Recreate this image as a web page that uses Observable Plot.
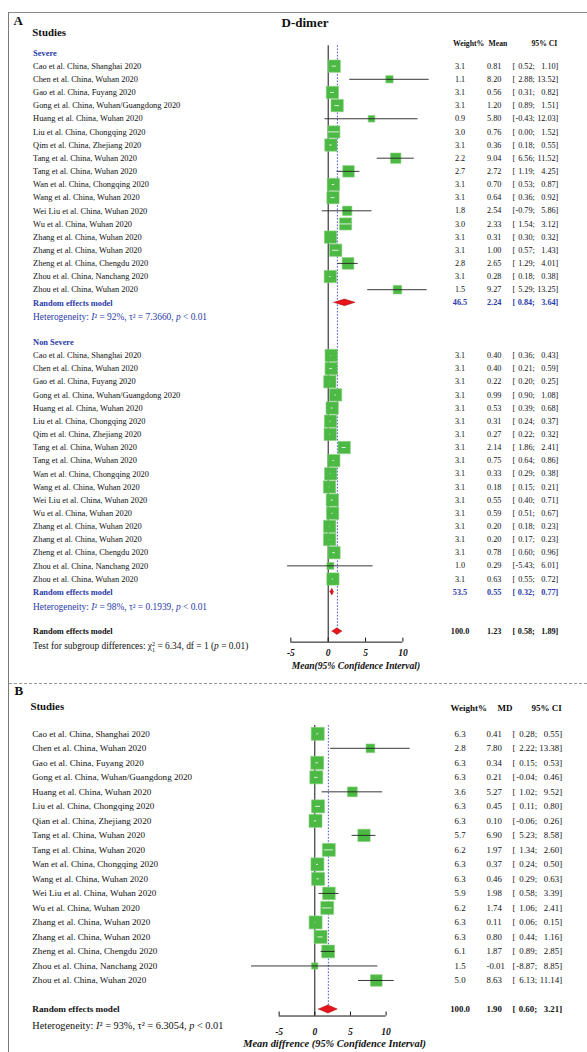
<!DOCTYPE html>
<html><head><meta charset="utf-8">
<script src="https://cdn.jsdelivr.net/npm/d3@7"></script>
<script src="https://cdn.jsdelivr.net/npm/@observablehq/plot@0.6"></script>
<style>
body{margin:0;background:#fff;}
#wrap{position:relative;width:587px;height:1052px;overflow:hidden;background:#fff;}
#wrap svg{display:block;}
.bt{position:absolute;left:9px;top:12px;width:578px;height:0;border-top:1.3px solid #8a8a8a;}
.bl{position:absolute;left:8px;top:12px;width:0;height:1040px;border-left:1.5px solid #7a7a7a;}
.bd{position:absolute;left:9px;top:683px;width:578px;height:0;border-top:1px dashed #9a9a9a;}
</style></head><body>
<div id="wrap"><div id="pa"></div><div id="pb"></div><div class="bt"></div><div class="bl"></div><div class="bd"></div></div>
<script>
// ---------------- data ----------------
const studiesA = ["Cao et al. China, Shanghai 2020","Chen et al. China, Wuhan 2020","Gao et al. China, Fuyang 2020","Gong et al. China, Wuhan/Guangdong 2020","Huang et al. China, Wuhan 2020","Liu et al. China, Chongqing 2020","Qim et al. China, Zhejiang 2020","Tang et al. China, Wuhan 2020","Tang et al. China, Wuhan 2020","Wan et al. China, Chongqing 2020","Wang et al. China, Wuhan 2020","Wei Liu et al. China, Wuhan 2020","Wu et al. China, Wuhan 2020","Zhang et al. China, Wuhan 2020","Zhang et al. China, Wuhan 2020","Zheng et al. China, Chengdu 2020","Zhou et al. China, Nanchang 2020","Zhou et al. China, Wuhan 2020"];
const studiesB = ["Cao et al. China, Shanghai 2020","Chen et al. China, Wuhan 2020","Gao et al. China, Fuyang 2020","Gong et al. China, Wuhan/Guangdong 2020","Huang et al. China, Wuhan 2020","Liu et al. China, Chongqing 2020","Qian et al. China, Zhejiang 2020","Tang et al. China, Wuhan 2020","Tang et al. China, Wuhan 2020","Wan et al. China, Chongqing 2020","Wang et al. China, Wuhan 2020","Wei Liu et al. China, Wuhan 2020","Wu et al. China, Wuhan 2020","Zhang et al. China, Wuhan 2020","Zhang et al. China, Wuhan 2020","Zheng et al. China, Chengdu 2020","Zhou et al. China, Nanchang 2020","Zhou et al. China, Wuhan 2020"];

const sevWeight = [3.1,1.1,3.1,3.1,0.9,3.0,3.1,2.2,2.7,3.1,3.1,1.8,3.0,3.1,3.1,2.8,3.1,1.5];
const sevMean   = [0.81,8.20,0.56,1.20,5.80,0.76,0.36,9.04,2.72,0.70,0.64,2.54,2.33,0.31,1.00,2.65,0.28,9.27];
const sevLower  = [0.52,2.88,0.31,0.89,-0.43,0.00,0.18,6.56,1.19,0.53,0.36,-0.79,1.54,0.30,0.57,1.29,0.18,5.29];
const sevUpper  = [1.10,13.52,0.82,1.51,12.03,1.52,0.55,11.52,4.25,0.87,0.92,5.86,3.12,0.32,1.43,4.01,0.38,13.25];

const nonWeight = [3.1,3.1,3.1,3.1,3.1,3.1,3.1,3.1,3.1,3.1,3.1,3.1,3.1,3.1,3.1,3.1,1.0,3.1];
const nonMean   = [0.40,0.40,0.22,0.99,0.53,0.31,0.27,2.14,0.75,0.33,0.18,0.55,0.59,0.20,0.20,0.78,0.29,0.63];
const nonLower  = [0.36,0.21,0.20,0.90,0.39,0.24,0.22,1.86,0.64,0.29,0.15,0.40,0.51,0.18,0.17,0.60,-5.43,0.55];
const nonUpper  = [0.43,0.59,0.25,1.08,0.68,0.37,0.32,2.41,0.86,0.38,0.21,0.71,0.67,0.23,0.23,0.96,6.01,0.72];

const mdWeight = [6.3,2.8,6.3,6.3,3.6,6.3,6.3,5.7,6.2,6.3,6.3,5.9,6.2,6.3,6.3,6.1,1.5,5.0];
const mdMean   = [0.41,7.80,0.34,0.21,5.27,0.45,0.10,6.90,1.97,0.37,0.46,1.98,1.74,0.11,0.80,1.87,-0.01,8.63];
const mdLower  = [0.28,2.22,0.15,-0.04,1.02,0.11,-0.06,5.23,1.34,0.24,0.29,0.58,1.06,0.06,0.44,0.89,-8.87,6.13];
const mdUpper  = [0.55,13.38,0.53,0.46,9.52,0.80,0.26,8.58,2.60,0.50,0.63,3.39,2.41,0.15,1.16,2.85,8.85,11.14];

// pooled: [weight, estimate, lower, upper]
const sevPooled = [46.5, 2.24, 0.84, 3.64];
const nonPooled = [53.5, 0.55, 0.32, 0.77];
const allPooledA = [100.0, 1.23, 0.58, 1.89];
const pooledB = [100.0, 1.90, 0.60, 3.21];

const hetSev = "Heterogeneity: *I*² = 92%, τ² = 7.3660, *p* < 0.01";
const hetNon = "Heterogeneity: *I*² = 98%, τ² = 0.1939, *p* < 0.01";
const testA  = "Test for subgroup differences: χ^2_1 = 6.34, df = 1 (*p* = 0.01)";
const hetB   = "Heterogeneity: *I*² = 93%, τ² = 6.3054, *p* < 0.01";
const xTicks = [-5, 0, 5, 10];
const titleA = "D-dimer";
const axisTitleA = "Mean(95% Confidence Interval)";
const axisTitleB = "Mean diffrence (95% Confidence Interval)";

// ---------------- drawing ----------------
const W = 587;
const BLUE = "#2b3aa8", GREEN = "#4cb944", RED = "#e8141b", INK = "#111";
const FONT = "'Liberation Serif','Times New Roman',serif";

function studyRows(names, w, m, lo, hi, start) {
  return names.map((n, i) => ({row: start + i, name: n, w: w[i], m: m[i], lo: lo[i], hi: hi[i]}));
}
function pooledRow(p, row, color) { return {row, w: p[0], m: p[1], lo: p[2], hi: p[3], color}; }

function forest(c) {
  const mT = c.row0 + c.yMin * c.rowH;
  const mB = c.height - (c.row0 + c.yAxis * c.rowH);
  const mL = c.x0 - 5 * c.pxu;
  const mR = W - (c.x0 + 10 * c.pxu);
  const L = px => px - mL, R = px => px - (W - mR);
  const rMax = c.side / Math.sqrt(Math.PI);
  const rows = c.rows.map(d => ({...d, inside: (d.hi - d.lo) * c.pxu < c.side * Math.sqrt(d.w / c.wMax)}));
  const diam = c.pooled.flatMap((p, i) => [
    {id: i, x: p.lo, y1: p.row, y2: p.row},
    {id: i, x: p.m, y1: p.row - c.dh, y2: p.row + c.dh},
    {id: i, x: p.hi, y1: p.row, y2: p.row}
  ]);
  const fs = c.fs;
  const valueMarks = (data, o) => [
    Plot.text(data, {y: "row", text: d => d.w.toFixed(1), frameAnchor: "right", dx: R(c.wX), textAnchor: "middle", ...o}),
    Plot.text(data, {y: "row", text: d => d.m.toFixed(2), frameAnchor: "right", dx: R(c.mX), textAnchor: "start", ...o}),
    Plot.text(data, {y: "row", text: d => "[", frameAnchor: "right", dx: R(c.bX), textAnchor: "start", ...o}),
    Plot.text(data, {y: "row", text: d => d.lo.toFixed(2) + ";", frameAnchor: "right", dx: R(c.loX), textAnchor: "end", ...o}),
    Plot.text(data, {y: "row", text: d => d.hi.toFixed(2) + "]", frameAnchor: "right", dx: R(c.hiX), textAnchor: "end", ...o})
  ];
  const marks = [
    Plot.ruleX([0], {y1: c.lineTop, y2: c.yAxis, stroke: INK, strokeWidth: 1}),
    Plot.ruleX([c.overall], {y1: c.lineTop, y2: c.dashEnd, stroke: "#3442d0", strokeDasharray: "1.6,1.6", strokeWidth: 0.9}),
    Plot.dot(rows, {x: "m", y: "row", r: "w", symbol: "square", fill: GREEN, stroke: "#86cf7c", strokeWidth: 0.6}),
    Plot.ruleY(rows.filter(d => !d.inside), {y: "row", x1: "lo", x2: "hi", stroke: "#222", strokeWidth: 0.9}),
    Plot.ruleY(rows.filter(d => d.inside), {y: "row", x1: "lo", x2: "hi", stroke: "#fff", strokeWidth: 0.8}),
    Plot.areaY(diam, {x: "x", y1: "y1", y2: "y2", z: "id", fill: RED, stroke: "#9a0000", strokeWidth: 0.5}),
    Plot.ruleY([c.yAxis], {x1: -5, x2: 10, stroke: INK, strokeWidth: 1}),
    Plot.ruleX(xTicks, {x: d => d, y1: c.yAxis, y2: c.yAxis - 4 / c.rowH, stroke: INK, strokeWidth: 1}),
    Plot.axisX({ticks: xTicks, tickSize: 0, tickPadding: c.tickPad, tickFormat: d => String(d), fontSize: fs.tick, fontWeight: "bold", fontStyle: "italic", fill: INK, label: null}),
    Plot.text([c.axisTitle], {text: d => d, frameAnchor: "bottom", dy: c.titleDy, dx: c.titleDx, fontSize: fs.title, fontWeight: "bold", fontStyle: "italic", fill: INK}),
    Plot.text([c.letter], {text: d => d, y: c.letterRow, frameAnchor: "left", dx: L(c.letterX), textAnchor: "start", fontSize: 13, fontWeight: "bold", fill: INK}),
    Plot.text(["Studies"], {text: d => d, y: c.studiesRow, frameAnchor: "left", dx: L(c.studiesX), textAnchor: "start", fontSize: fs.studies, fontWeight: "bold", fill: INK}),
    Plot.text(["Weight%"], {text: d => d, y: c.headRow, frameAnchor: "right", dx: R(c.hW), textAnchor: "start", fontSize: fs.head, fontWeight: "bold", fill: INK}),
    Plot.text([c.estName], {text: d => d, y: c.headRow, frameAnchor: "right", dx: R(c.hM), textAnchor: "start", fontSize: fs.head, fontWeight: "bold", fill: INK}),
    Plot.text(["95% CI"], {text: d => d, y: c.headRow, frameAnchor: "right", dx: R(c.hC), textAnchor: "start", fontSize: fs.head, fontWeight: "bold", fill: INK}),
    Plot.text(rows, {y: "row", text: "name", frameAnchor: "left", dx: L(c.nameX), textAnchor: "start", fontSize: fs.name, fill: INK}),
    ...valueMarks(rows, {fontSize: fs.val, fill: INK})
  ];
  if (c.title) marks.push(Plot.text([c.title], {text: d => d, y: c.titleRow, frameAnchor: "left", dx: L(c.titleX), textAnchor: "middle", fontSize: 13, fontWeight: "bold", fill: INK}));
  for (const g of c.groups) marks.push(Plot.text([g.label], {text: d => d, y: g.row, frameAnchor: "left", dx: L(c.nameX), textAnchor: "start", fontSize: fs.re, fontWeight: "bold", fill: BLUE}));
  for (const p of c.pooled) {
    marks.push(Plot.text(["Random effects model"], {text: d => d, y: p.row, frameAnchor: "left", dx: L(c.nameX), textAnchor: "start", fontSize: fs.re, fontWeight: "bold", fill: p.color}));
    marks.push(...valueMarks([p], {fontSize: fs.val, fontWeight: "bold", fill: p.color}));
  }
  for (const n of c.notes) marks.push(Plot.text([n.text], {text: d => d, y: n.row, frameAnchor: "left", dx: L(c.nameX), textAnchor: "start", fontSize: fs.het, fill: n.color}));

  return Plot.plot({
    width: W, height: c.height,
    marginTop: mT, marginBottom: mB, marginLeft: mL, marginRight: mR,
    x: {domain: [-5, 10]},
    y: {domain: [c.yMin, c.yAxis], reverse: true, axis: null},
    r: {type: "sqrt", domain: [0, c.wMax], range: [0, rMax]},
    style: {fontFamily: FONT, background: "transparent", overflow: "visible"},
    marks
  });
}

function richify(root) {
  const NS = "http://www.w3.org/2000/svg";
  root.querySelectorAll("text").forEach(t => {
    const s = t.textContent;
    if (!/[*^]/.test(s)) return;
    const fs = parseFloat(getComputedStyle(t).fontSize) || 10;
    t.textContent = "";
    const add = (txt, attrs) => {
      const ts = document.createElementNS(NS, "tspan");
      ts.textContent = txt;
      for (const k in attrs) ts.setAttribute(k, attrs[k]);
      t.appendChild(ts);
    };
    const re = /\*([^*]+)\*|\^(\d)_(\d)/g;
    let last = 0, m, pendingDy = 0;
    while ((m = re.exec(s))) {
      if (m.index > last) { add(s.slice(last, m.index), pendingDy ? {dy: pendingDy} : {}); pendingDy = 0; }
      if (m[1]) { add(m[1], Object.assign({"font-style": "italic"}, pendingDy ? {dy: pendingDy} : {})); pendingDy = 0; }
      else {
        add(m[2], {dy: -0.36 * fs, "font-size": 0.66 * fs});
        add(m[3], {dx: -0.33 * fs, dy: 0.62 * fs, "font-size": 0.66 * fs});
        pendingDy = -0.26 * fs;
      }
      last = re.lastIndex;
    }
    if (last < s.length) add(s.slice(last), pendingDy ? {dy: pendingDy} : {});
  });
}

// ----- panel A -----
const rowsA = [
  ...studyRows(studiesA, sevWeight, sevMean, sevLower, sevUpper, 1),
  ...studyRows(studiesA, nonWeight, nonMean, nonLower, nonUpper, 23)
];
const svgA = forest({
  height: 683, row0: 52.5, rowH: 13.15, yMin: -3, yAxis: 44.8,
  x0: 327.7, pxu: 7.47, side: 12.3, wMax: 3.1, dh: 0.25,
  lineTop: -0.55, dashEnd: 43.75, overall: allPooledA[1],
  tickPad: 7.5, titleDy: 26.4, titleDx: 9, axisTitle: axisTitleA,
  letter: "A", letterRow: -2.47, letterX: 13,
  title: titleA, titleRow: -2.27, titleX: 304.5,
  studiesRow: -1.52, studiesX: 31.8, headRow: -0.75,
  estName: "Mean", hW: 452.5, hM: 488, hC: 531,
  nameX: 32.6, wX: 459.5, mX: 486.5, bX: 512, loX: 534.3, hiX: 557.8,
  fs: {name: 8.4, val: 8.2, head: 7.7, het: 9.4, re: 8.4, studies: 10.8, tick: 9.5, title: 9.6},
  rows: rowsA,
  groups: [{label: "Severe", row: 0}, {label: "Non Severe", row: 22}],
  pooled: [pooledRow(sevPooled, 19, BLUE), pooledRow(nonPooled, 41, BLUE), pooledRow(allPooledA, 44, INK)],
  notes: [{text: hetSev, row: 20.1, color: BLUE}, {text: hetNon, row: 42.1, color: BLUE}, {text: testA, row: 45.1, color: INK}]
});
document.getElementById("pa").appendChild(svgA);

// ----- panel B -----
const svgB = forest({
  height: 369, row0: 50.3, rowH: 14.51, yMin: -3, yAxis: 19.45,
  x0: 314.3, pxu: 7.13, side: 13, wMax: 6.3, dh: 0.28,
  lineTop: -0.57, dashEnd: 18.72, overall: pooledB[1],
  tickPad: 12.5, titleDy: 31, titleDx: 2, axisTitle: axisTitleB,
  letter: "B", letterRow: -2.95, letterX: 14,
  title: null,
  studiesRow: -1.9, studiesX: 30, headRow: -1.74,
  estName: "MD", hW: 450, hM: 497, hC: 531,
  nameX: 31.8, wX: 459.6, mX: 486, bX: 512, loX: 536.6, hiX: 561.6,
  fs: {name: 9.1, val: 8.8, head: 9.0, het: 10.3, re: 9.2, studies: 10.8, tick: 9.6, title: 10.4},
  rows: studyRows(studiesB, mdWeight, mdMean, mdLower, mdUpper, 0),
  groups: [],
  pooled: [pooledRow(pooledB, 19, INK)],
  notes: [{text: hetB, row: 20.1, color: INK}]
});
document.getElementById("pb").appendChild(svgB);

richify(svgA);
richify(svgB);
</script>
</body></html>
